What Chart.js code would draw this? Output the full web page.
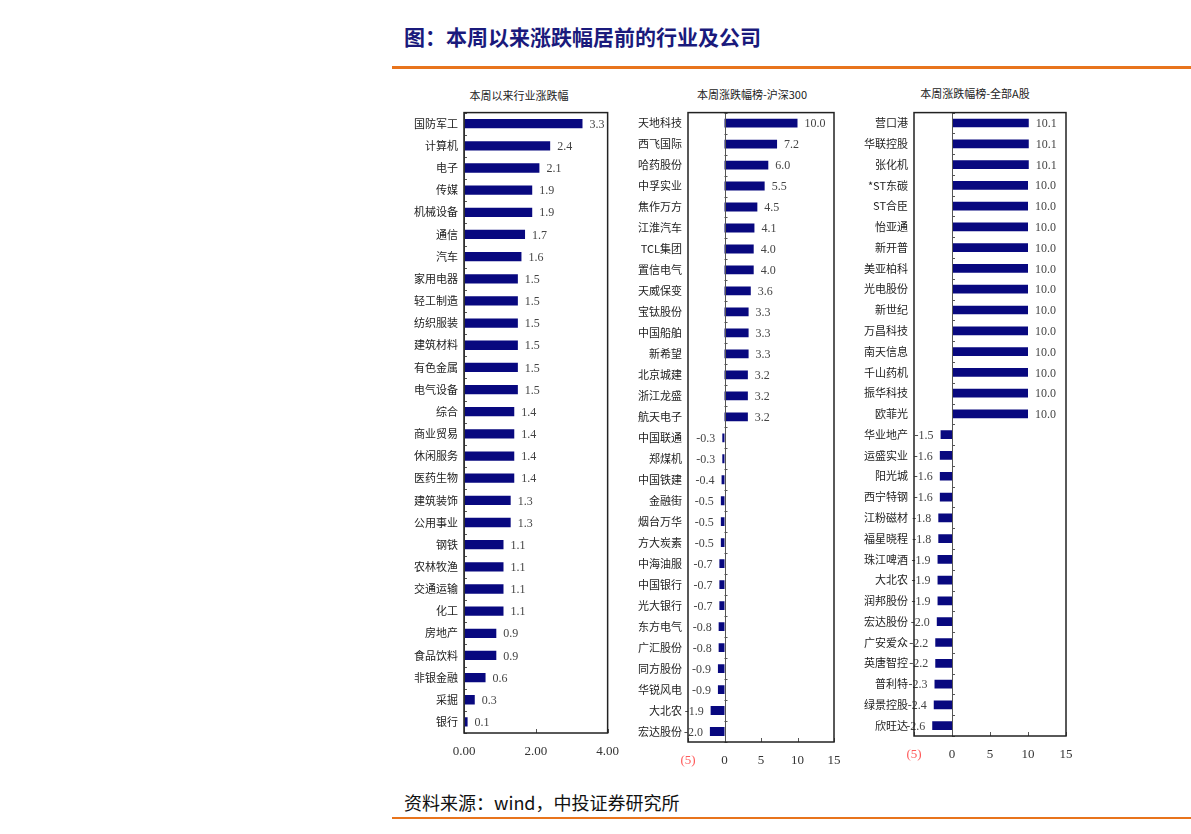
<!DOCTYPE html>
<html>
<head>
<meta charset="utf-8">
<script src="https://cdn.jsdelivr.net/npm/chart.js@4.4.1/dist/chart.umd.min.js"></script>
<style>
  body { margin: 0; background: #fff; width: 1191px; height: 834px; position: relative; overflow: hidden; }
  .txt { position: absolute; font-family: "Noto Sans CJK SC", sans-serif; white-space: nowrap; }
  #mainTitle { left: 404px; top: 22px; font-size: 21px; font-weight: bold; color: #1a1a7c; line-height: 28px; }
  #topRule { position: absolute; left: 392px; top: 66px; width: 799px; height: 3px; background: #e8741c; }
  #source { left: 404px; top: 790px; font-size: 18px; color: #111; line-height: 24px; }
  #bottomRule { position: absolute; left: 392px; top: 817px; width: 799px; height: 2px; background: #e8741c; }
  .ctitle { font-size: 11px; color: #222; line-height: 14px; transform: translateX(-50%); }
  canvas { position: absolute; }
</style>
</head>
<body>
<div class="txt" id="mainTitle">图：本周以来涨跌幅居前的行业及公司</div>
<div id="topRule"></div>

<div class="txt ctitle" style="left:519px; top:88px;">本周以来行业涨跌幅</div>
<div class="txt ctitle" style="left:752px; top:87px;">本周涨跌幅榜-沪深300</div>
<div class="txt ctitle" style="left:975px; top:86px;">本周涨跌幅榜-全部A股</div>

<canvas id="chartIndustry" width="230" height="680" style="left:400px; top:100px;"></canvas>
<canvas id="chartHs300" width="225" height="680" style="left:630px; top:100px;"></canvas>
<canvas id="chartAllA" width="225" height="680" style="left:860px; top:100px;"></canvas>

<div class="txt" id="source">资料来源：wind，中投证券研究所</div>
<div id="bottomRule"></div>

<script>
// data
var industryLabels = ["国防军工", "计算机", "电子", "传媒", "机械设备", "通信", "汽车", "家用电器", "轻工制造", "纺织服装",
  "建筑材料", "有色金属", "电气设备", "综合", "商业贸易", "休闲服务", "医药生物", "建筑装饰", "公用事业", "钢铁",
  "农林牧渔", "交通运输", "化工", "房地产", "食品饮料", "非银金融", "采掘", "银行"];
var industryValues = [3.3, 2.4, 2.1, 1.9, 1.9, 1.7, 1.6, 1.5, 1.5, 1.5,
  1.5, 1.5, 1.5, 1.4, 1.4, 1.4, 1.4, 1.3, 1.3, 1.1,
  1.1, 1.1, 1.1, 0.9, 0.9, 0.6, 0.3, 0.1];

var hs300Labels = ["天地科技", "西飞国际", "哈药股份", "中孚实业", "焦作万方", "江淮汽车", "TCL集团", "置信电气", "天威保变", "宝钛股份",
  "中国船舶", "新希望", "北京城建", "浙江龙盛", "航天电子", "中国联通", "郑煤机", "中国铁建", "金融街", "烟台万华",
  "方大炭素", "中海油服", "中国银行", "光大银行", "东方电气", "广汇股份", "同方股份", "华锐风电", "大北农", "宏达股份"];
var hs300Values = [10.0, 7.2, 6.0, 5.5, 4.5, 4.1, 4.0, 4.0, 3.6, 3.3,
  3.3, 3.3, 3.2, 3.2, 3.2, -0.3, -0.3, -0.4, -0.5, -0.5,
  -0.5, -0.7, -0.7, -0.7, -0.8, -0.8, -0.9, -0.9, -1.9, -2.0];

var allALabels = ["营口港", "华联控股", "张化机", "*ST东碳", "ST合臣", "怡亚通", "新开普", "美亚柏科", "光电股份", "新世纪",
  "万昌科技", "南天信息", "千山药机", "振华科技", "欧菲光", "华业地产", "运盛实业", "阳光城", "西宁特钢", "江粉磁材",
  "福星晓程", "珠江啤酒", "大北农", "润邦股份", "宏达股份", "广安爱众", "英唐智控", "普利特", "绿景控股", "欣旺达"];
var allAValues = [10.1, 10.1, 10.1, 10.0, 10.0, 10.0, 10.0, 10.0, 10.0, 10.0,
  10.0, 10.0, 10.0, 10.0, 10.0, -1.5, -1.6, -1.6, -1.6, -1.8,
  -1.8, -1.9, -1.9, -1.9, -2.0, -2.2, -2.2, -2.3, -2.4, -2.6];

var industryAxis = { min: 0, max: 4, step: 2 };
var stockAxis = { min: -5, max: 15, step: 5 };

var barColor = "#08087f";
var numFont = "'Liberation Serif', serif";

// frame, zero line, little tick marks and the value labels
var decorPlugin = {
  id: "decor",
  afterDatasetsDraw: function(chart) {
    var ctx = chart.ctx;
    var meta = chart.getDatasetMeta(0);
    var values = chart.data.datasets[0].data;
    ctx.save();
    ctx.font = "12px " + numFont;
    ctx.fillStyle = "#444";
    ctx.textBaseline = "middle";
    meta.data.forEach(function(bar, i) {
      var v = values[i];
      if (v >= 0) {
        ctx.textAlign = "left";
        ctx.fillText(v.toFixed(1), bar.x + 7, bar.y + 1);
      } else {
        ctx.textAlign = "right";
        ctx.fillText(v.toFixed(1), bar.x - 7, bar.y + 1);
      }
    });
    ctx.restore();
  },
  afterDraw: function(chart) {
    var ctx = chart.ctx;
    var a = chart.chartArea;
    var xs = chart.scales.x, ys = chart.scales.y;
    var x0 = xs.getPixelForValue(0);
    ctx.save();
    // zero line
    ctx.strokeStyle = "#555";
    ctx.lineWidth = 1;
    ctx.beginPath();
    ctx.moveTo(Math.round(x0) + 0.5, a.top);
    ctx.lineTo(Math.round(x0) + 0.5, a.bottom);
    ctx.stroke();
    // category marks on the zero line
    var n = chart.data.labels.length;
    ctx.beginPath();
    for (var i = 0; i <= n; i++) {
      var y = Math.round(ys.getPixelForValue(i - 0.5)) + 0.5;
      ctx.moveTo(x0, y);
      ctx.lineTo(x0 + 3, y);
    }
    // value marks on the bottom axis
    xs.ticks.forEach(function(t) {
      var x = Math.round(xs.getPixelForValue(t.value)) + 0.5;
      ctx.moveTo(x, a.bottom);
      ctx.lineTo(x, a.bottom - 4);
    });
    ctx.stroke();
    // frame
    ctx.strokeStyle = "#222";
    ctx.lineWidth = 1.5;
    ctx.strokeRect(a.left, a.top, a.right - a.left, a.bottom - a.top);
    ctx.restore();
  }
};

function makeChart(id, labels, values, axis, yWidth, pad, fmt) {
  return new Chart(id, {
    type: "bar",
    data: {
      labels: labels,
      datasets: [{
        data: values,
        backgroundColor: barColor,
        borderWidth: 0,
        categoryPercentage: 1,
        barPercentage: 0.42
      }]
    },
    options: {
      indexAxis: "y",
      responsive: false,
      animation: false,
      layout: { padding: pad },
      plugins: {
        legend: { display: false },
        tooltip: { enabled: false }
      },
      scales: {
        x: {
          min: axis.min,
          max: axis.max,
          grid: { display: false, drawTicks: false },
          border: { display: false },
          ticks: {
            stepSize: axis.step,
            padding: 11,
            maxRotation: 0,
            font: { family: numFont, size: 13 },
            color: function(c) { return c.tick && c.tick.value < 0 ? "#ff5a5a" : "#333"; },
            callback: fmt
          },
          afterFit: function(scale) { scale.height = 30; }
        },
        y: {
          grid: { display: false, drawTicks: false },
          border: { display: false },
          ticks: {
            padding: 6,
            autoSkip: false,
            font: { family: "'Noto Sans CJK SC', sans-serif", size: 11 },
            color: "#222"
          },
          afterFit: function(scale) { scale.width = yWidth; }
        }
      }
    },
    plugins: [decorPlugin]
  });
}

function fmtIndustry(v) { return Number(v).toFixed(2); }
function fmtStock(v) { return v < 0 ? "(" + Math.abs(v) + ")" : String(v); }

makeChart("chartIndustry", industryLabels, industryValues, industryAxis, 64,
  { top: 12, right: 19, bottom: 17, left: 0 }, fmtIndustry);
makeChart("chartHs300", hs300Labels, hs300Values, stockAxis, 58,
  { top: 9, right: 21, bottom: 8, left: 0 }, fmtStock);
makeChart("chartAllA", allALabels, allAValues, stockAxis, 54,
  { top: 12, right: 19, bottom: 14, left: 0 }, fmtStock);
</script>
</body>
</html>
